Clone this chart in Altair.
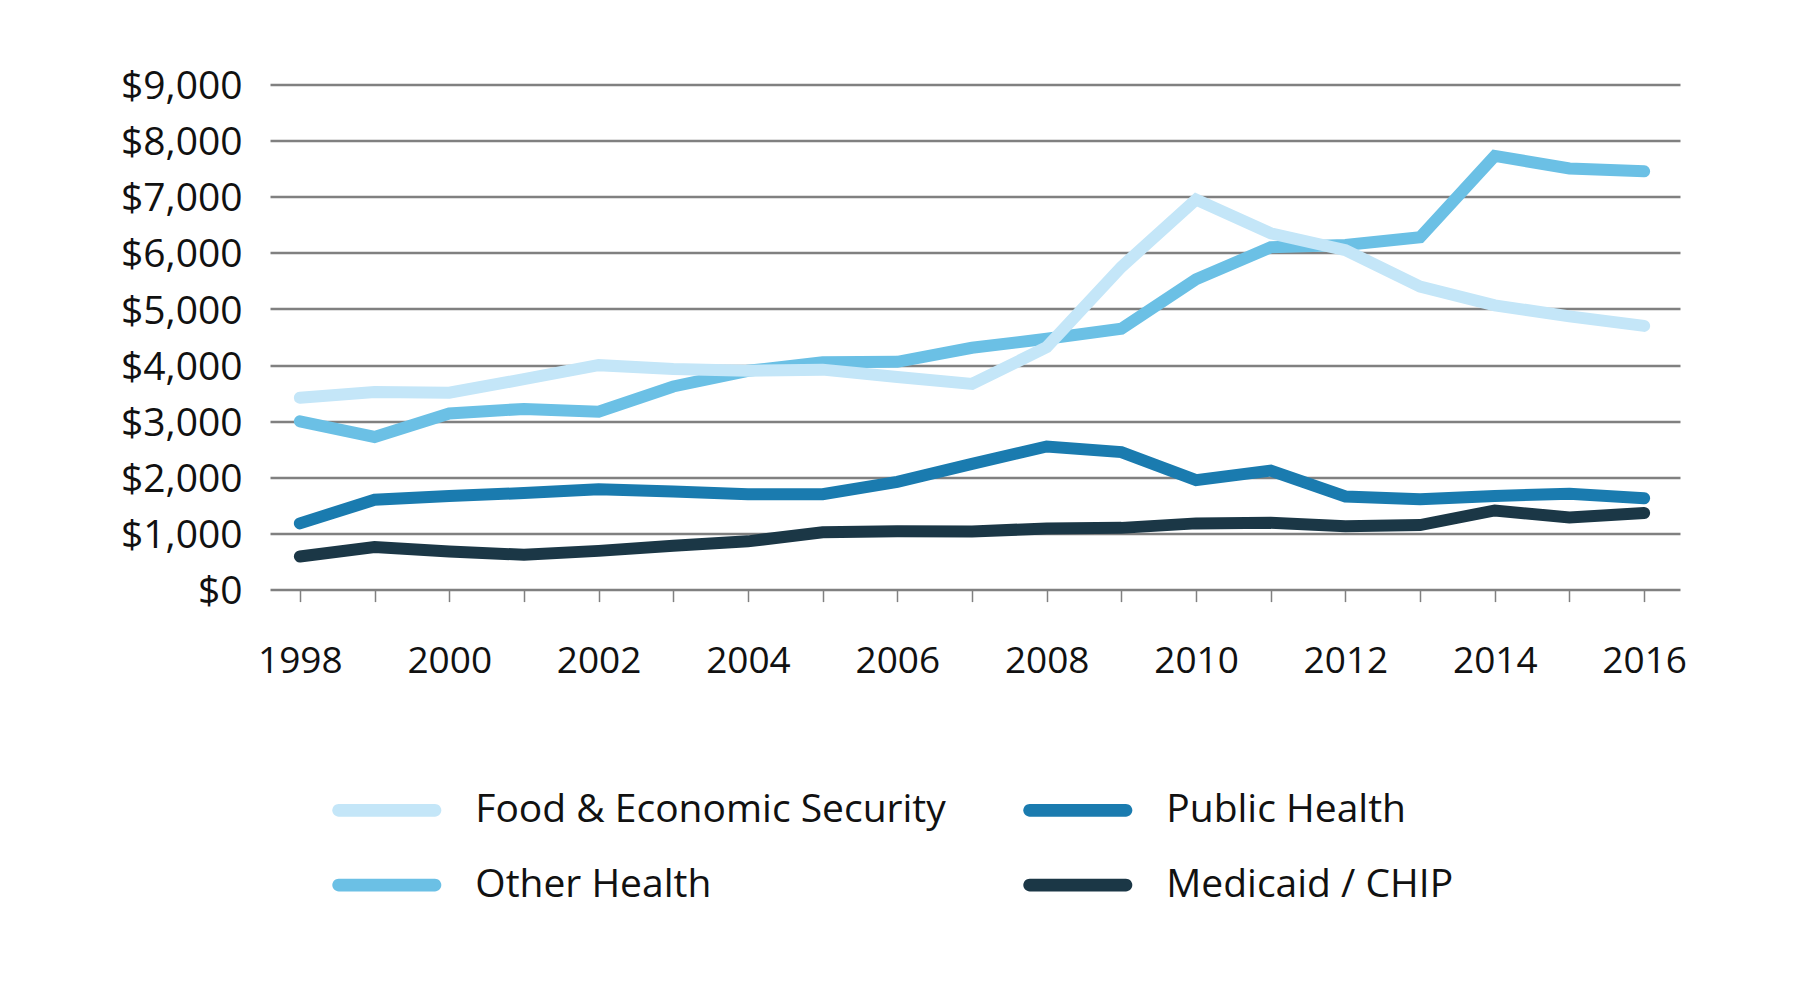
import altair as alt
import pandas as pd

years = list(range(1998, 2017))
series_names = ["Food & Economic Security", "Other Health", "Public Health", "Medicaid / CHIP"]
colors = ["#c4e6f8", "#6bc0e5", "#1a7baf", "#1b3746"]

food = [3420, 3520, 3510, 3750, 4000, 3930, 3900, 3920, 3790, 3665, 4320, 5750, 6950, 6350, 6050, 5400, 5065, 4870, 4700]
other = [3000, 2720, 3140, 3220, 3170, 3620, 3900, 4050, 4060, 4310, 4470, 4650, 5530, 6100, 6140, 6280, 7730, 7505, 7455]
public = [1180, 1600, 1670, 1720, 1790, 1750, 1700, 1700, 1920, 2240, 2550, 2450, 1950, 2120, 1660, 1610, 1670, 1710, 1630]
medicaid = [590, 760, 680, 620, 690, 780, 860, 1020, 1040, 1035, 1090, 1100, 1180, 1190, 1130, 1150, 1410, 1285, 1365]

rows = []
for name, vals in zip(["Medicaid / CHIP", "Public Health", "Other Health", "Food & Economic Security"],
                      [medicaid, public, other, food]):
    for y, v in zip(years, vals):
        rows.append({"year": y, "value": v, "series": name})
df = pd.DataFrame(rows)

FONT = "Open Sans"
# rounded-end bar used as legend swatch (custom symbol path, unit coords)
PILL = ("M-0.8835,-0.1165L0.8835,-0.1165A0.1165,0.1165,0,0,1,0.8835,0.1165"
        "L-0.8835,0.1165A0.1165,0.1165,0,0,1,-0.8835,-0.1165Z")
SYM_SIZE = 11881

color_scale = alt.Scale(domain=series_names, range=colors)

x_enc = alt.X("year:Q",
              scale=alt.Scale(domain=[1997.6, 2016.48], nice=False, zero=False),
              axis=alt.Axis(values=years, format="d",
                            labelExpr="datum.value % 2 === 0 ? datum.label : ''",
                            grid=False, domain=False, ticks=True, tickSize=12,
                            tickColor="#808080", tickWidth=1.5,
                            labelFontSize=37, labelFont=FONT, labelColor="#111111",
                            labelPadding=42, labelFlush=False, labelOverlap=False,
                            title=None))
y_enc = alt.Y("value:Q",
              scale=alt.Scale(domain=[0, 9000], nice=False),
              axis=alt.Axis(values=list(range(0, 9001, 1000)), format="$,.0f",
                            grid=True, gridColor="#808080", gridWidth=2.5,
                            domain=False, ticks=False, labelPadding=28,
                            labelFontSize=39, labelFont=FONT, labelColor="#111111",
                            labelOffset=2, labelFlush=False, title=None))

base = alt.Chart(df)

lines = base.mark_line(strokeWidth=12, strokeCap="round").encode(
    x=x_enc, y=y_enc,
    color=alt.Color("series:N", scale=color_scale, legend=None),
    order=alt.Order("year:Q"),
)

legend_layer = base.transform_filter(alt.datum.year < 0).mark_point(
    filled=True, shape=PILL, size=SYM_SIZE, opacity=1, strokeWidth=0
).encode(
    x="year:Q", y="value:Q",
    color=alt.Color("series:N", scale=color_scale,
                    legend=alt.Legend(orient="none", legendX=62.3, legendY=671,
                                      columns=2, columnPadding=77, rowPadding=-30,
                                      symbolType=PILL, symbolSize=SYM_SIZE,
                                      symbolStrokeWidth=0, labelOffset=34,
                                      labelFontSize=39, labelFont=FONT,
                                      labelColor="#111111", labelLimit=800,
                                      padding=0, title=None)),
)

chart = alt.layer(lines, legend_layer).resolve_legend(color="independent").properties(
    width=1410, height=505,
    autosize=alt.AutoSizeParams(type="none"),
    padding={"left": 262, "top": 76.6, "right": 112, "bottom": 390},
).configure_view(stroke=None)

chart.save("out.html", embed_options={"renderer": "svg", "actions": False})
